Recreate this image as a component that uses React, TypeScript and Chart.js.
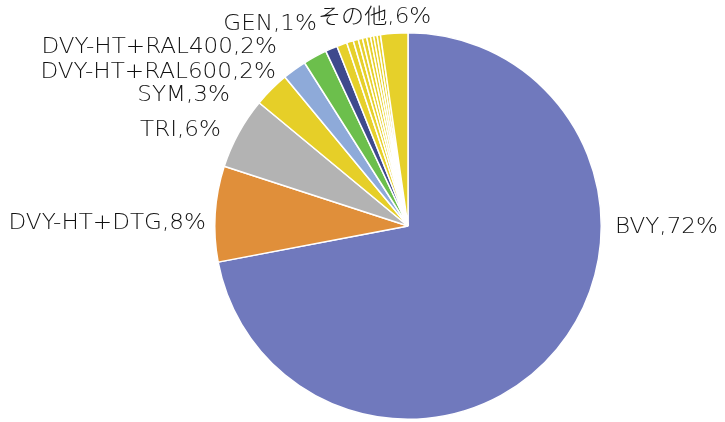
import React, { useEffect, useRef } from "react";
import { Chart, registerables } from "chart.js";

Chart.register(...registerables);

const categories = [
  "BVY", "DVY-HT+DTG", "TRI", "SYM", "DVY-HT+RAL600", "DVY-HT+RAL400", "GEN",
  "その他a", "その他b", "その他c", "その他d", "その他e", "その他f", "その他g", "その他h", "その他i", "その他j",
];
const values = [72, 8, 6, 3, 2, 2, 1, 0.86, 0.56, 0.42, 0.36, 0.36, 0.31, 0.28, 0.28, 0.28, 2.28];
const colors = [
  "#7079bd", "#e08f3a", "#b3b3b3", "#e6cf28", "#8eaad9", "#6cbf4c", "#3f4a8d",
  "#e6d02a", "#e6d02a", "#e6d02a", "#e6d02a", "#e6d02a", "#e6d02a", "#e6d02a", "#e6d02a", "#e6d02a", "#e6d02a",
];
const labelTexts = [
  "BVY,72%", "DVY-HT+DTG,8%", "TRI,6%", "SYM,3%", "DVY-HT+RAL600,2%", "DVY-HT+RAL400,2%", "GEN,1%", "その他,6%",
];
// label placement relative to the pie centre: [dx, dy, align]
const labelPlacement: [number, number, CanvasTextAlign][] = [
  [207, 1.5, "left"],
  [-202, -2.5, "right"],
  [-187, -95.5, "right"],
  [-178, -130.5, "right"],
  [-132, -153.5, "right"],
  [-131, -178.5, "right"],
  [-91, -201.5, "right"],
  [-90, -208.5, "left"],
];
const STRETCH = 1.1;

const labelPlugin = {
  id: "sliceLabels",
  afterDraw(chart: any) {
    const arc = chart.getDatasetMeta(0).data[0];
    if (!arc) return;
    const { x, y } = arc;
    const ctx = chart.ctx;
    ctx.save();
    ctx.fillStyle = "#111111";
    ctx.font = "200 21px 'DejaVu Sans', 'Noto Sans CJK JP', sans-serif";
    ctx.textBaseline = "middle";
    labelTexts.forEach((t, i) => {
      const [dx, dy, align] = labelPlacement[i];
      ctx.save();
      ctx.translate(x + dx, y + dy);
      ctx.scale(STRETCH, 1);
      ctx.textAlign = align;
      ctx.fillText(t, 0, 0);
      ctx.restore();
    });
    ctx.restore();
  },
};

export default function App() {
  const ref = useRef<HTMLCanvasElement>(null);
  useEffect(() => {
    document.body.style.margin = "0";
    const chart = new Chart(ref.current!, {
      type: "pie",
      data: {
        labels: categories,
        datasets: [
          {
            data: values,
            backgroundColor: colors,
            borderColor: "#ffffff",
            borderWidth: 1.5,
          },
        ],
      },
      options: {
        animation: false,
        responsive: false,
        layout: { padding: { top: 32, bottom: 2, left: 214, right: 123 } },
        plugins: { legend: { display: false }, tooltip: { enabled: false } },
      },
      plugins: [labelPlugin],
    });
    return () => chart.destroy();
  }, []);
  return (
    <div style={{ position: "fixed", left: 0, top: 0, width: 725, height: 422, background: "#fff" }}>
      <canvas ref={ref} width={725} height={422} style={{ width: 725, height: 422 }} />
    </div>
  );
}
